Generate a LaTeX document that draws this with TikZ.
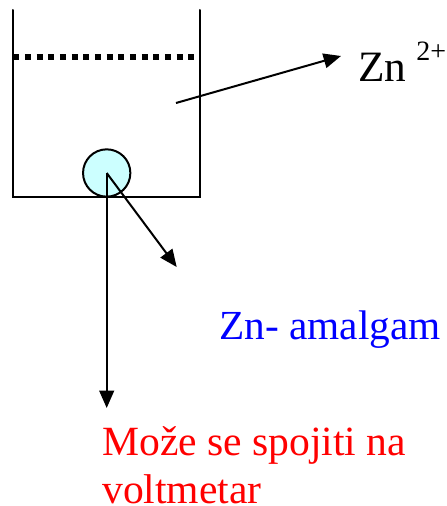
\documentclass[tikz,border=0pt]{standalone}
\usepackage{fontspec}
\setmainfont{Liberation Serif}
\usetikzlibrary{arrows.meta}
\tikzset{
  px/.style={x=0.75pt,y=-0.75pt},
  wall/.style={draw=black,line width=1.5pt,line cap=round,line join=miter},
  arr/.style={draw=black,line width=1.5pt,-{Triangle[length=13pt,width=11pt]}},
  lab/.style={inner sep=0pt,anchor=base west}
}
\definecolor{amalg}{HTML}{CCFFFF}
\begin{document}
\begin{tikzpicture}[px]
\useasboundingbox (0,0) rectangle (446,506);
\fill[white] (0,0) rectangle (446,506);
\coordinate (tl) at (13.3,10);
\coordinate (bl) at (13.3,196.7);
\coordinate (br) at (200,196.7);
\coordinate (tr) at (200,10);
\draw[wall] (tl) -- (bl) -- (br) -- (tr);
\coordinate (dl) at (13.3,57);
\coordinate (dr) at (196,57);
\draw[draw=black,line width=4.5pt,dash pattern=on 4.6pt off 4.15pt] (dl) -- (dr);
\node[circle,draw=black,line width=1.5pt,fill=amalg,minimum size=35.5pt,inner sep=0pt] (c) at (106.7,173) {};
\coordinate (cc) at (106.7,173);
\coordinate (a1) at (176,103);
\coordinate (a1e) at (341,56);
\draw[arr] (a1) -- (a1e);
\coordinate (a2e) at (176.7,267);
\draw[arr] (cc) -- (a2e);
\coordinate (a3e) at (106.7,408);
\draw[arr] (cc) -- (a3e);
\node[lab,font=\fontsize{32.5pt}{36pt}\selectfont] (zn) at (358,82) {Zn};
\node[lab,font=\fontsize{21pt}{24pt}\selectfont] (zs) at (416,61) {2+};
\node[lab,text=blue,font=\fontsize{31pt}{34pt}\selectfont] (am) at (219,339) {Zn- amalgam};
\node[lab,text=red,font=\fontsize{31.2pt}{36pt}\selectfont] (m1) at (102,455) {Može se spojiti na};
\node[lab,text=red,font=\fontsize{31.2pt}{36pt}\selectfont] (m2) at (102,503) {voltmetar};
\end{tikzpicture}
\end{document}
